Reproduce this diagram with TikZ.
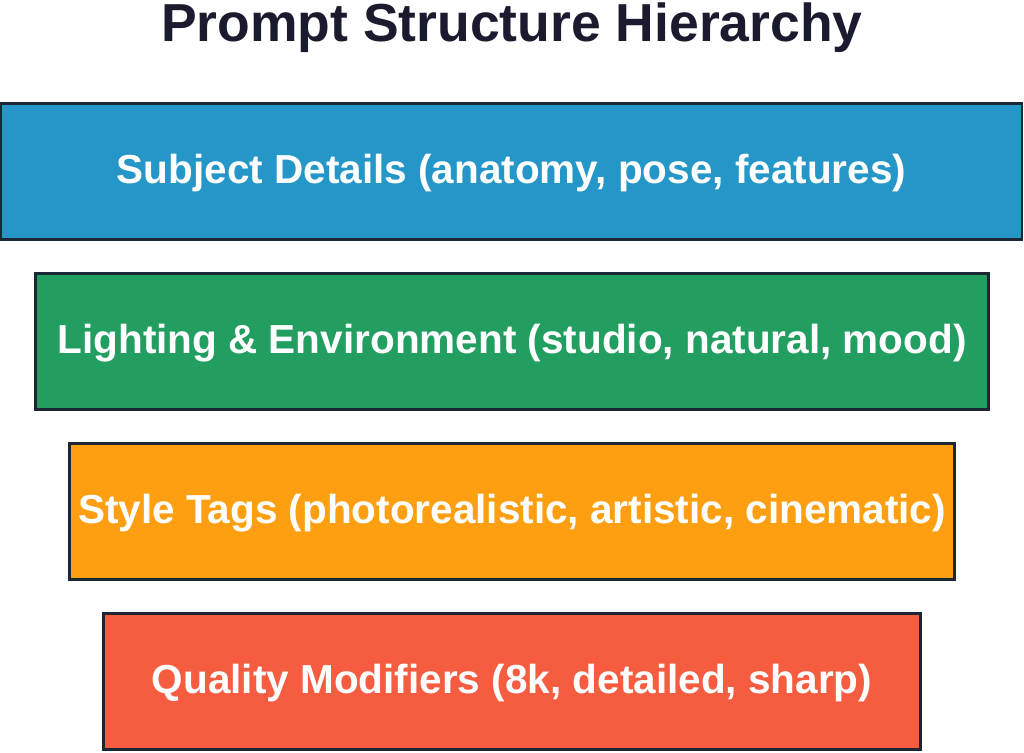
\documentclass[tikz,border=0pt]{standalone}
\usepackage{fontspec}
\setmainfont{Liberation Sans}
\definecolor{titlec}{HTML}{1B1B2F}
\definecolor{edgec}{HTML}{1C2733}
\definecolor{bluec}{HTML}{2496C8}
\definecolor{greenc}{HTML}{229F60}
\definecolor{orangec}{HTML}{FE9F12}
\definecolor{redc}{HTML}{F65C40}
\begin{document}
\begin{tikzpicture}[x=1pt,y=-1pt,
  layer/.style={draw=edgec,line width=2.5pt,minimum height=136pt,inner sep=0pt,
    text height=27pt,text depth=4pt,
    text=white,font=\fontsize{40.5}{44}\selectfont\bfseries},
  titlestyle/.style={text=titlec,font=\fontsize{53.5}{58}\selectfont\bfseries,inner sep=0pt,anchor=base}]
\useasboundingbox (0,0) rectangle (1024,752);
\node[titlestyle] (title) at (512,41.5) {Prompt Structure Hierarchy};
\node[layer,fill=bluec,minimum width=1021pt] (subject) at (511.5,171.5) {Subject Details (anatomy, pose, features)};
\node[layer,fill=greenc,minimum width=953pt] (light) at (512,341.5) {Lighting \& Environment (studio, natural, mood)};
\node[layer,fill=orangec,minimum width=885pt] (style) at (512,511.5) {Style Tags (photorealistic, artistic, cinematic)};
\node[layer,fill=redc,minimum width=817pt] (quality) at (512,681.5) {Quality Modifiers (8k, detailed, sharp)};
\end{tikzpicture}
\end{document}
